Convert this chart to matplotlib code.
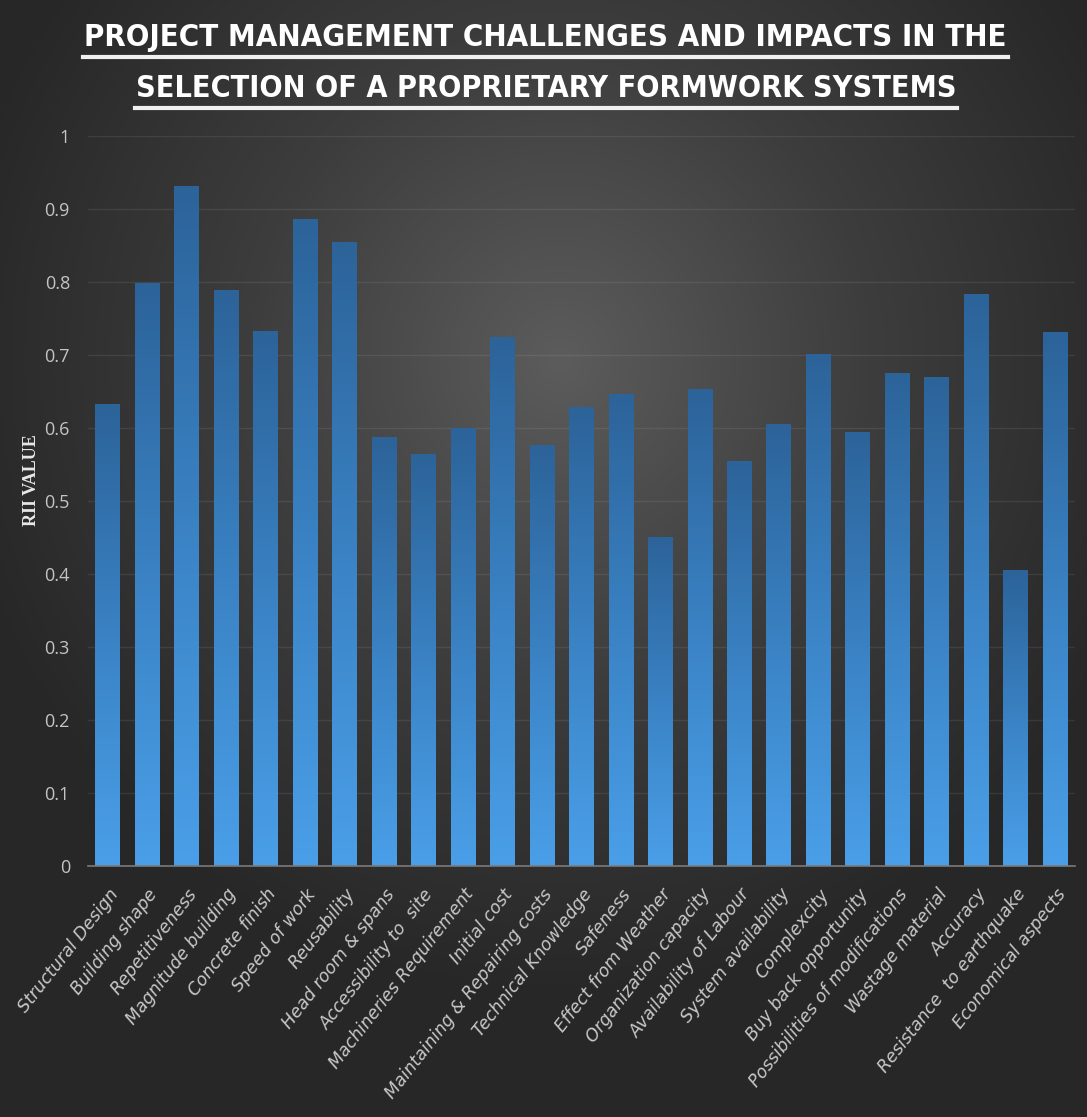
import numpy as np
import matplotlib
matplotlib.use("Agg")
import matplotlib.pyplot as plt
from matplotlib.colors import LinearSegmentedColormap
from matplotlib.lines import Line2D
from matplotlib import font_manager

# ---------------- data ----------------
categories = [
    "Structural Design", "Building shape", "Repetitiveness", "Magnitude building",
    "Concrete finish", "Speed of work", "Reusability", "Head room & spans",
    "Accessibility to  site", "Machineries Requirement", "Initial cost",
    "Maintaining & Repairing costs", "Technical Knowledge", "Safeness",
    "Effect from Weather", "Organization capacity", "Availability of Labour",
    "System availability", "Complexcity", "Buy back opportunity",
    "Possibilities of modifications", "Wastage material", "Accuracy",
    "Resistance  to earthquake", "Economical aspects",
]
rii_values = [
    0.633, 0.799, 0.932, 0.789, 0.733, 0.886, 0.855, 0.587, 0.565, 0.600,
    0.724, 0.577, 0.629, 0.647, 0.451, 0.653, 0.555, 0.606, 0.702, 0.595,
    0.675, 0.670, 0.783, 0.405, 0.732,
]
y_ticks = [0, 0.1, 0.2, 0.3, 0.4, 0.5, 0.6, 0.7, 0.8, 0.9, 1.0]
y_tick_labels = ["0", "0.1", "0.2", "0.3", "0.4", "0.5", "0.6", "0.7", "0.8", "0.9", "1"]
title_lines = ["PROJECT MANAGEMENT CHALLENGES AND IMPACTS IN THE",
               "SELECTION OF A PROPRIETARY FORMWORK SYSTEMS"]
y_label = "RII VALUE"

# ---------------- fonts ----------------
available = {f.name for f in font_manager.fontManager.ttflist}
narrow = "Liberation Sans Narrow" if "Liberation Sans Narrow" in available else "Open Sans"
serif = "Liberation Serif" if "Liberation Serif" in available else "DejaVu Serif"

W, H = 1087, 1117
fig = plt.figure(figsize=(W / 100, H / 100), dpi=100)

# ---------------- background radial gradient ----------------
bg = fig.add_axes([0, 0, 1, 1])
bg.axis("off")
yy, xx = np.mgrid[0:H, 0:W]
r = np.sqrt(((xx - 560) / 620.0) ** 2 + ((yy - 360) / 640.0) ** 2)
r = np.clip(r, 0, 1)
bg_cmap = LinearSegmentedColormap.from_list("bg", ["#5c5c5c", "#3d3d3d", "#272727"])
bg.imshow(r, cmap=bg_cmap, vmin=0, vmax=1, aspect="auto", extent=[0, 1, 0, 1],
          origin="upper", interpolation="bilinear")
bg.set_xlim(0, 1)
bg.set_ylim(0, 1)

# ---------------- main axes ----------------
ax = fig.add_axes([88 / W, 1 - 866 / H, (1075 - 88) / W, (866 - 136) / H])
ax.patch.set_alpha(0)
x = np.arange(len(categories))
bars = ax.bar(x, rii_values, width=0.63, color="none", edgecolor="none", zorder=2)

bar_cmap = LinearSegmentedColormap.from_list("bar", ["#4a9fe8", "#3a82c4", "#2c6399"])
grad = np.linspace(0, 1, 256).reshape(-1, 1)
for b in bars:
    x0, w, h = b.get_x(), b.get_width(), b.get_height()
    im = ax.imshow(grad, extent=[x0, x0 + w, 0, h], cmap=bar_cmap, aspect="auto",
                   origin="lower", zorder=2, interpolation="bilinear")
    im.set_clip_path(b)

ax.set_xlim(-0.5, len(categories) - 0.5)
ax.set_ylim(0, 1)
ax.set_yticks(y_ticks)
ax.set_yticklabels(y_tick_labels)
ax.yaxis.grid(True, color="#ffffff", alpha=0.08, linewidth=1.0, zorder=0)
ax.set_axisbelow(True)
for s in ["top", "right", "left"]:
    ax.spines[s].set_visible(False)
ax.spines["bottom"].set_color("#7a7a7a")
ax.spines["bottom"].set_linewidth(1.2)
ax.tick_params(axis="both", length=0)
ax.tick_params(axis="y", pad=13, labelcolor="#c4c4c4")
for lab in ax.get_yticklabels():
    lab.set_fontfamily(narrow)
    lab.set_fontsize(13)

ax.set_xticks(x)
ax.set_xticklabels(categories, rotation=52, ha="right", rotation_mode="anchor",
                   color="#c8c8c8", fontsize=12.5, fontstyle="italic",
                   family=["DejaVu Sans"])
ax.tick_params(axis="x", pad=14)

fig.text(32 / W, 1 - 480 / H, y_label, rotation=90, ha="center", va="center",
         fontsize=13, fontweight="bold", color="#e8e8e8", family=serif)

# ---------------- title with underline ----------------
renderer = fig.canvas.get_renderer()
targets = [(25 + 48) / 2, (75 + 100) / 2]
spans = [(83, 1008), (135, 957)]
ul_y = [57, 108]
for line, yc, (xa, xb), uy in zip(title_lines, targets, spans, ul_y):
    t = fig.text(0.5 * (xa + xb) / W, 1 - (yc + 1) / H, line, ha="center", va="center",
                 fontsize=28, fontweight="bold", color="white",
                 family="DejaVu Sans", fontstretch="condensed")
    bb = t.get_window_extent(renderer)
    t.set_fontsize(28 * (xb - xa) / bb.width)
    fig.add_artist(Line2D([xa / W, xb / W], [1 - uy / H, 1 - uy / H],
                          transform=fig.transFigure, color="#f0f0f0", linewidth=3))

fig.savefig("out.png", dpi=100)
